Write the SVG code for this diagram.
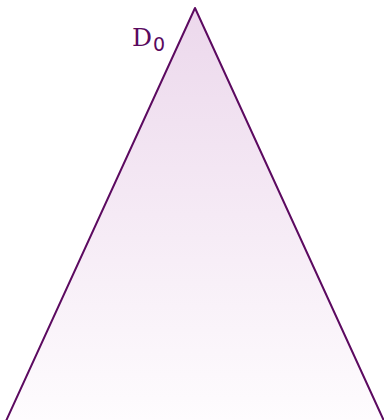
<svg xmlns="http://www.w3.org/2000/svg" width="384" height="420" viewBox="0 0 384 420">
<defs>
<linearGradient id="g" x1="0" y1="0" x2="0" y2="1">
<stop offset="0" stop-color="#ecd8ec"/>
<stop offset="1" stop-color="#fefcfe"/>
</linearGradient>
<style>
.lbl{font-family:"DejaVu Serif",serif;fill:#5a0a5e;}
</style>
</defs>
<g id="triangle">
<path d="M6,421 L195,8 L384,421" fill="url(#g)" stroke="#5c0a60" stroke-width="2" stroke-linejoin="round"/>
</g>
<g id="label">
<text class="lbl" x="132" y="46" font-size="25">D<tspan font-family="DejaVu Sans, sans-serif" font-size="19" dx="1" dy="5">0</tspan></text>
</g>
</svg>
